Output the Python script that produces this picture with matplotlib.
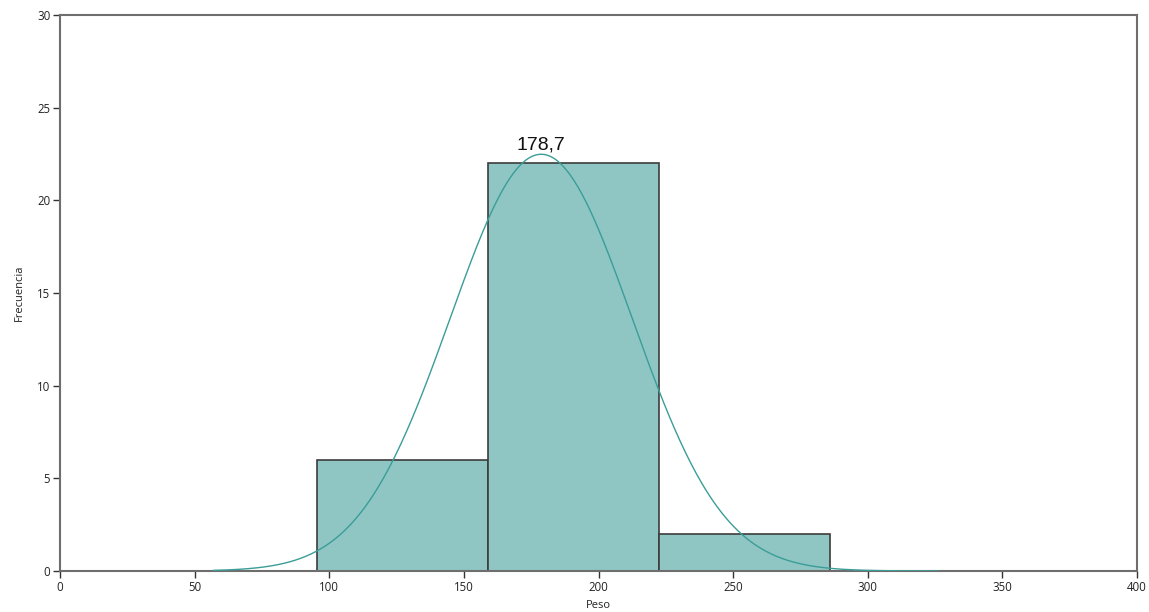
import numpy as np
import matplotlib
matplotlib.use("Agg")
import matplotlib.pyplot as plt

# --- Data ---
bin_edges = [95.5, 159.0, 222.5, 286.0]
counts = [6, 22, 2]
mean_val = 178.7
sigma_val = 33.8
curve_range = (57, 326)
mean_label = "178,7"

BAR_COLOR = "#8fc6c4"
EDGE_COLOR = "#3c3c3c"
CURVE_COLOR = "#3a9d98"
AXIS_COLOR = "#6e6e6e"

plt.rcParams["font.family"] = ["Open Sans", "DejaVu Sans"]

fig = plt.figure(figsize=(11.49, 6.12), dpi=100)
ax = fig.add_axes([0.0522, 0.067, 0.9374, 0.9085])

lefts = bin_edges[:-1]
widths = np.diff(bin_edges)
ax.bar(lefts, counts, width=widths, align="edge", color=BAR_COLOR,
       edgecolor=EDGE_COLOR, linewidth=1.2, zorder=2)

# normal curve scaled to histogram area
n = sum(counts)
bw = widths[0]
xs = np.linspace(curve_range[0], curve_range[1], 400)
ys = n * bw / (sigma_val * np.sqrt(2 * np.pi)) * np.exp(-0.5 * ((xs - mean_val) / sigma_val) ** 2)
ax.plot(xs, ys, color=CURVE_COLOR, linewidth=1.0, zorder=3)

peak = n * bw / (sigma_val * np.sqrt(2 * np.pi))
ax.text(mean_val, peak + 0.05, mean_label, ha="center", va="bottom",
        fontsize=14, family="Liberation Sans", color="#111111", zorder=4)

ax.set_xlim(0, 400)
ax.set_ylim(0, 30)
ax.set_xticks(np.arange(0, 401, 50))
ax.set_yticks(np.arange(0, 31, 5))
ax.tick_params(direction="out", length=5, width=1, color="#333333",
               labelsize=8.3, pad=2, labelcolor="#222222")
for sp in ax.spines.values():
    sp.set_color(AXIS_COLOR)
    sp.set_linewidth(1.5)

ax.set_xlabel("Peso", fontsize=8, color="#222222", labelpad=4.5)
ax.set_ylabel("Frecuencia", fontsize=8, color="#222222", labelpad=9)

fig.savefig("out.png", dpi=100)
